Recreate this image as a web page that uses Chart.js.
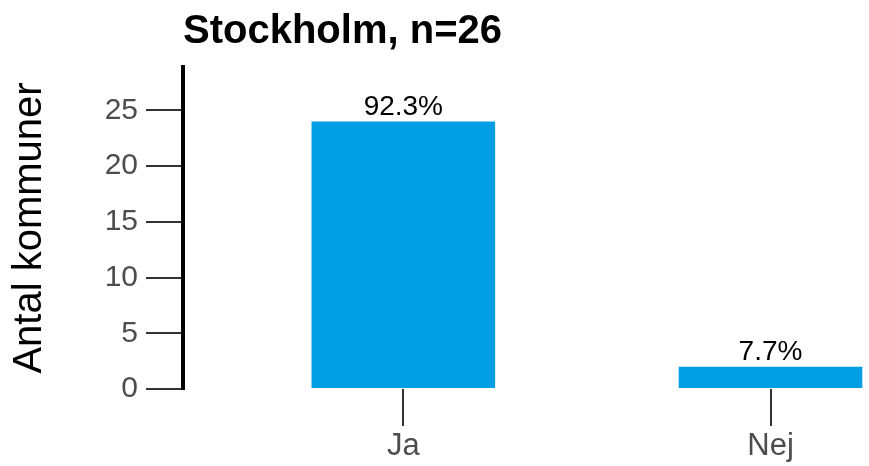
<!DOCTYPE html>
<html>
<head>
<meta charset="utf-8">
<script src="https://cdn.jsdelivr.net/npm/chart.js@4"></script>
<style>
  body { margin: 0; background: #fff; }
</style>
</head>
<body>
<canvas id="chart" width="869" height="466"></canvas>
<script>
// data
const categories = ['Ja', 'Nej'];
const counts = [24, 2];
const shares = ['92.3%', '7.7%'];
const yTicks = [0, 5, 10, 15, 20, 25];

const FONT = "'Liberation Sans', Arial, sans-serif";

// percentage labels above each bar
const barLabels = {
    id: 'barLabels',
    afterDatasetsDraw(chart) {
        const ctx = chart.ctx;
        const meta = chart.getDatasetMeta(0);
        ctx.save();
        ctx.font = '28px ' + FONT;
        ctx.fillStyle = '#000';
        ctx.textAlign = 'center';
        ctx.textBaseline = 'alphabetic';
        meta.data.forEach((bar, i) => {
            ctx.fillText(shares[i], bar.x, bar.y - 7);
        });
        ctx.restore();
    }
};

new Chart('chart', {
    type: 'bar',
    data: {
        datasets: [{
            data: counts.map((v, i) => ({ x: i, y: v })),
            backgroundColor: '#009fe3',
            categoryPercentage: 1,
            barPercentage: 0.5
        }]
    },
    options: {
        responsive: false,
        animation: false,
        layout: { padding: { left: 0, right: 3, top: 0, bottom: 0 } },
        plugins: {
            legend: { display: false },
            tooltip: { enabled: false },
            title: {
                display: true,
                text: 'Stockholm, n=26',
                align: 'start',
                fullSize: false,
                color: '#000',
                font: { family: FONT, size: 40, weight: 'bold' },
                padding: { top: 8, bottom: 11 }
            }
        },
        scales: {
            x: {
                type: 'linear',
                offset: false,
                min: -0.6,
                max: 1.26,
                afterBuildTicks: (scale) => {
                    scale.ticks = categories.map((c, i) => ({ value: i }));
                },
                afterFit: (scale) => { scale.height = 77; },
                ticks: {
                    callback: (v) => categories[v],
                    color: '#4d4d4d',
                    font: { family: FONT, size: 31 },
                    padding: 2,
                    maxRotation: 0
                },
                grid: {
                    offset: false,
                    drawOnChartArea: false,
                    drawTicks: true,
                    tickLength: 37,
                    color: '#333',
                    lineWidth: 2
                },
                border: { display: false }
            },
            y: {
                min: 0,
                max: 28.9,
                afterFit: (scale) => { scale.width = 183; },
                afterBuildTicks: (scale) => {
                    scale.ticks = yTicks.map(v => ({ value: v }));
                },
                ticks: {
                    color: '#4d4d4d',
                    font: { family: FONT, size: 30 },
                    padding: 8
                },
                grid: {
                    drawOnChartArea: false,
                    drawTicks: true,
                    tickLength: 37,
                    color: '#333',
                    lineWidth: 2
                },
                border: { display: true, color: '#000', width: 4 },
                title: {
                    display: true,
                    text: 'Antal kommuner',
                    color: '#000',
                    font: { family: FONT, size: 40 },
                    padding: { top: 6, bottom: 0 }
                }
            }
        }
    },
    plugins: [barLabels]
});
</script>
</body>
</html>
